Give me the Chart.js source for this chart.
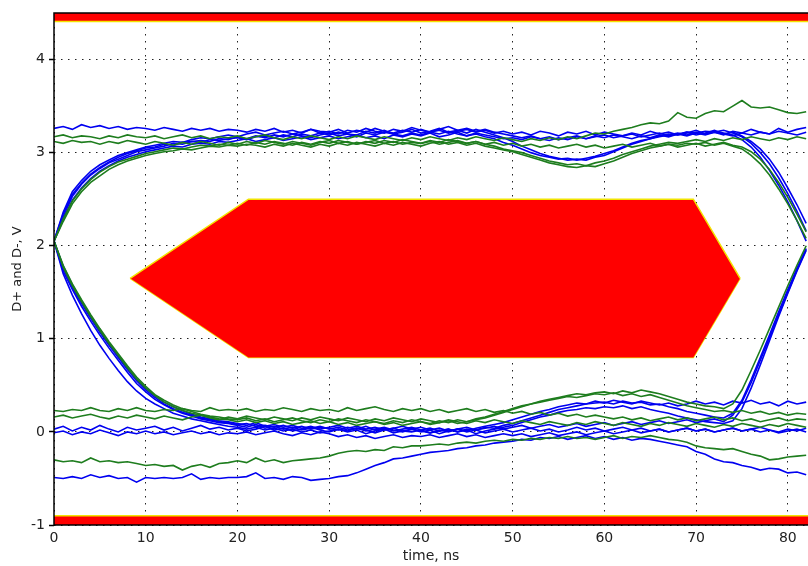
<!DOCTYPE html>
<html>
<head>
<meta charset="utf-8">
<title>Eye diagram</title>
<script src="https://cdn.jsdelivr.net/npm/chart.js@4.4.1/dist/chart.umd.min.js"></script>
<style>
  html, body { margin: 0; padding: 0; background: #fff; overflow: hidden; }
  #wrap { width: 808px; height: 566px; }
</style>
</head>
<body>
<div id="wrap"><canvas id="eye" width="808" height="566"></canvas></div>
<script>
// time axis, ns (one sample per ns)
const timeNs = [
  0, 1, 2, 3, 4, 5, 6, 7, 8, 9,
  10, 11, 12, 13, 14, 15, 16, 17, 18, 19,
  20, 21, 22, 23, 24, 25, 26, 27, 28, 29,
  30, 31, 32, 33, 34, 35, 36, 37, 38, 39,
  40, 41, 42, 43, 44, 45, 46, 47, 48, 49,
  50, 51, 52, 53, 54, 55, 56, 57, 58, 59,
  60, 61, 62, 63, 64, 65, 66, 67, 68, 69,
  70, 71, 72, 73, 74, 75, 76, 77, 78, 79,
  80, 81, 82
];

// ---- blue captures (V) ----
const blueHigh1 = [
  2.05, 2.34, 2.55, 2.67, 2.77, 2.84, 2.90, 2.95, 2.99, 3.02,
  3.05, 3.06, 3.09, 3.08, 3.11, 3.12, 3.11, 3.14, 3.13, 3.15,
  3.16, 3.14, 3.17, 3.18, 3.16, 3.19, 3.17, 3.20, 3.18, 3.21,
  3.19, 3.22, 3.20, 3.19, 3.23, 3.21, 3.24, 3.20, 3.22, 3.25,
  3.21, 3.23, 3.26, 3.22, 3.24, 3.21, 3.25, 3.22, 3.19, 3.16,
  3.12, 3.07, 3.03, 2.99, 2.96, 2.94, 2.92, 2.93, 2.92, 2.95,
  2.97, 3.01, 3.05, 3.09, 3.12, 3.15, 3.18, 3.20, 3.19, 3.22,
  3.21, 3.23, 3.22, 3.24, 3.21, 3.17, 3.10, 3.00, 2.88, 2.73,
  2.56, 2.37, 2.16
];
const blueHigh2 = [
  2.05, 2.28, 2.49, 2.62, 2.72, 2.80, 2.86, 2.91, 2.95, 2.98,
  3.01, 3.03, 3.05, 3.07, 3.06, 3.09, 3.10, 3.09, 3.12, 3.11,
  3.13, 3.15, 3.12, 3.14, 3.16, 3.13, 3.15, 3.17, 3.14, 3.16,
  3.18, 3.15, 3.17, 3.19, 3.16, 3.18, 3.15, 3.19, 3.17, 3.20,
  3.18, 3.21, 3.17, 3.19, 3.22, 3.18, 3.20, 3.17, 3.15, 3.11,
  3.08, 3.04, 3.00, 2.97, 2.95, 2.93, 2.94, 2.92, 2.94, 2.96,
  2.99, 3.02, 3.06, 3.10, 3.13, 3.15, 3.17, 3.19, 3.21, 3.19,
  3.22, 3.20, 3.23, 3.21, 3.19, 3.14, 3.06, 2.95, 2.81, 2.65,
  2.47, 2.27, 2.05
];
const blueHigh3 = [
  2.05, 2.36, 2.58, 2.70, 2.80, 2.87, 2.92, 2.97, 3.00, 3.03,
  3.06, 3.08, 3.10, 3.12, 3.11, 3.14, 3.16, 3.15, 3.17, 3.19,
  3.17, 3.20, 3.22, 3.19, 3.21, 3.23, 3.20, 3.22, 3.25, 3.21,
  3.23, 3.20, 3.24, 3.22, 3.26, 3.23, 3.21, 3.25, 3.23, 3.27,
  3.24, 3.22, 3.25, 3.28, 3.24, 3.26, 3.23, 3.25, 3.22, 3.20,
  3.18, 3.16, 3.18, 3.15, 3.17, 3.14, 3.16, 3.18, 3.15, 3.17,
  3.19, 3.16, 3.18, 3.20, 3.17, 3.19, 3.21, 3.18, 3.20, 3.22,
  3.19, 3.21, 3.24, 3.20, 3.22, 3.18, 3.12, 3.04, 2.93, 2.79,
  2.62, 2.44, 2.24
];
const blueHigh4 = [
  2.05, 2.31, 2.53, 2.66, 2.76, 2.83, 2.89, 2.93, 2.97, 3.01,
  3.03, 3.05, 3.07, 3.10, 3.09, 3.12, 3.13, 3.12, 3.15, 3.14,
  3.17, 3.15, 3.18, 3.16, 3.19, 3.17, 3.20, 3.18, 3.16, 3.19,
  3.21, 3.18, 3.20, 3.17, 3.21, 3.19, 3.22, 3.20, 3.18, 3.21,
  3.19, 3.22, 3.20, 3.23, 3.20, 3.18, 3.21, 3.19, 3.17, 3.15,
  3.16, 3.14, 3.17, 3.15, 3.13, 3.16, 3.14, 3.17, 3.15, 3.18,
  3.16, 3.19, 3.17, 3.15, 3.18, 3.16, 3.19, 3.17, 3.20, 3.18,
  3.21, 3.19, 3.22, 3.20, 3.18, 3.21, 3.19, 3.22, 3.20, 3.23,
  3.21, 3.19, 3.22
];
const blueIdleHigh = [
  3.26, 3.28, 3.25, 3.30, 3.27, 3.29, 3.26, 3.28, 3.25, 3.27,
  3.26, 3.24, 3.27, 3.25, 3.23, 3.26, 3.24, 3.26, 3.23, 3.25,
  3.24, 3.22, 3.25, 3.23, 3.26, 3.22, 3.24, 3.21, 3.25, 3.23,
  3.22, 3.25, 3.21, 3.24, 3.22, 3.26, 3.23, 3.21, 3.24, 3.22,
  3.25, 3.22, 3.24, 3.21, 3.23, 3.25, 3.22, 3.24, 3.21, 3.23,
  3.20, 3.22, 3.19, 3.23, 3.21, 3.18, 3.22, 3.20, 3.23, 3.19,
  3.22, 3.20, 3.18, 3.21, 3.19, 3.23, 3.20, 3.22, 3.19, 3.21,
  3.24, 3.20, 3.22, 3.19, 3.23, 3.21, 3.25, 3.22, 3.20, 3.26,
  3.22, 3.25, 3.27
];
const blueLow1 = [
  2.05, 1.76, 1.55, 1.38, 1.22, 1.07, 0.93, 0.80, 0.67, 0.55,
  0.45, 0.37, 0.30, 0.25, 0.21, 0.18, 0.15, 0.13, 0.11, 0.10,
  0.08, 0.09, 0.06, 0.07, 0.05, 0.07, 0.04, 0.06, 0.03, 0.05,
  0.04, 0.02, 0.05, 0.03, 0.06, 0.02, 0.04, 0.01, 0.03, 0.05,
  0.02, 0.04, 0.01, 0.03, 0.00, 0.03, 0.02, 0.05, 0.04, 0.07,
  0.09, 0.12, 0.15, 0.18, 0.21, 0.24, 0.26, 0.28, 0.30, 0.31,
  0.32, 0.30, 0.33, 0.31, 0.32, 0.29, 0.30, 0.27, 0.25, 0.22,
  0.20, 0.18, 0.16, 0.15, 0.20, 0.34, 0.56, 0.80, 1.04, 1.29,
  1.53, 1.76, 1.97
];
const blueLow2 = [
  2.05, 1.73, 1.53, 1.35, 1.19, 1.04, 0.90, 0.77, 0.64, 0.52,
  0.43, 0.35, 0.29, 0.24, 0.20, 0.17, 0.14, 0.12, 0.10, 0.09,
  0.07, 0.05, 0.08, 0.04, 0.06, 0.03, 0.05, 0.02, 0.04, 0.06,
  0.03, 0.05, 0.02, 0.04, 0.01, 0.03, 0.05, 0.02, 0.00, 0.03,
  0.01, -0.01, 0.02, 0.00, 0.03, 0.01, 0.04, 0.06, 0.08, 0.10,
  0.13, 0.16, 0.19, 0.22, 0.24, 0.27, 0.29, 0.31, 0.30, 0.33,
  0.31, 0.34, 0.32, 0.30, 0.33, 0.31, 0.29, 0.31, 0.28, 0.30,
  0.33, 0.30, 0.32, 0.29, 0.33, 0.31, 0.34, 0.30, 0.32, 0.28,
  0.33, 0.30, 0.32
];
const blueLow3 = [
  2.05, 1.70, 1.47, 1.27, 1.09, 0.93, 0.79, 0.66, 0.54, 0.44,
  0.36, 0.30, 0.25, 0.20, 0.17, 0.14, 0.12, 0.10, 0.08, 0.06,
  0.05, 0.03, 0.05, 0.02, 0.04, 0.01, 0.03, 0.00, 0.02, -0.01,
  0.01, 0.03, 0.00, 0.02, -0.02, 0.01, 0.03, -0.01, 0.01, 0.00,
  0.02, -0.01, 0.01, 0.03, 0.00, 0.02, -0.02, 0.01, 0.03, 0.05,
  0.07, 0.10, 0.13, 0.16, 0.18, 0.21, 0.23, 0.24, 0.26, 0.25,
  0.27, 0.26, 0.28, 0.25, 0.27, 0.24, 0.22, 0.20, 0.17, 0.15,
  0.13, 0.11, 0.10, 0.09, 0.12, 0.25, 0.47, 0.72, 0.98, 1.24,
  1.49, 1.73, 1.95
];
const blueLow4 = [
  2.05, 1.78, 1.58, 1.40, 1.24, 1.09, 0.95, 0.82, 0.69, 0.57,
  0.47, 0.39, 0.32, 0.27, 0.23, 0.19, 0.16, 0.14, 0.12, 0.11,
  0.09, 0.07, 0.10, 0.06, 0.08, 0.05, 0.07, 0.04, 0.06, 0.03,
  0.05, 0.07, 0.04, 0.06, 0.03, 0.05, 0.02, 0.04, 0.06, 0.03,
  0.05, 0.02, 0.04, 0.01, 0.03, 0.05, 0.02, 0.04, 0.06, 0.03,
  0.05, 0.07, 0.04, 0.06, 0.08, 0.05, 0.07, 0.09, 0.06, 0.08,
  0.10, 0.07, 0.09, 0.11, 0.08, 0.10, 0.12, 0.09, 0.11, 0.13,
  0.10, 0.12, 0.14, 0.11, 0.18, 0.32, 0.53, 0.77, 1.01, 1.26,
  1.50, 1.74, 1.96
];
const blueIdleLow1 = [
  0.03, 0.06, 0.01, 0.05, 0.02, 0.07, 0.03, 0.00, 0.05, 0.02,
  0.04, 0.06, 0.02, 0.05, 0.01, 0.04, 0.07, 0.03, 0.05, 0.02,
  0.04, 0.01, 0.03, 0.06, 0.02, 0.04, 0.01, 0.03, 0.05, 0.02,
  0.00, 0.03, 0.01, 0.04, 0.02, -0.01, 0.02, 0.04, 0.01, 0.03,
  0.00, 0.02, -0.02, 0.01, 0.03, 0.00, 0.02, -0.01, 0.01, 0.03,
  0.00, 0.02, 0.04, 0.01, 0.03, 0.00, 0.02, 0.05, 0.02, 0.04,
  0.01, 0.03, 0.05, 0.02, 0.04, 0.01, 0.03, 0.00, 0.02, 0.04,
  0.01, 0.03, 0.00, 0.02, 0.04, 0.01, 0.03, 0.05, 0.02, 0.00,
  0.03, 0.01, 0.04
];
const blueIdleLow2 = [
  -0.01, 0.01, -0.03, 0.00, -0.02, 0.02, -0.01, -0.04, 0.00, -0.02,
  0.01, -0.02, 0.00, -0.03, -0.01, 0.01, -0.02, 0.00, -0.03, -0.01,
  -0.02, 0.00, -0.03, -0.01, 0.01, -0.02, -0.04, -0.01, -0.03, 0.00,
  -0.02, -0.05, -0.03, -0.06, -0.04, -0.07, -0.05, -0.03, -0.06, -0.04,
  -0.05, -0.03, -0.06, -0.04, -0.02, -0.05, -0.03, -0.06, -0.04, -0.02,
  -0.04, -0.02, -0.05, -0.03, -0.01, -0.04, -0.02, 0.00, -0.03, -0.01,
  0.01, -0.02, 0.00, 0.02, -0.01, 0.01, 0.03, 0.00, 0.02, 0.04,
  0.01, 0.03, 0.00, 0.02, 0.04, 0.01, 0.03, 0.00, 0.02, -0.01,
  0.01, 0.03, 0.00
];
const blueNegative = [
  -0.49, -0.50, -0.48, -0.50, -0.46, -0.49, -0.47, -0.50, -0.49, -0.54,
  -0.49, -0.50, -0.49, -0.50, -0.49, -0.45, -0.51, -0.49, -0.50, -0.49,
  -0.49, -0.48, -0.44, -0.50, -0.49, -0.51, -0.48, -0.49, -0.52, -0.51,
  -0.50, -0.48, -0.47, -0.44, -0.40, -0.36, -0.33, -0.29, -0.28, -0.26,
  -0.24, -0.22, -0.21, -0.20, -0.18, -0.17, -0.15, -0.14, -0.12, -0.11,
  -0.10, -0.08, -0.09, -0.06, -0.07, -0.05, -0.08, -0.06, -0.04, -0.07,
  -0.05, -0.08, -0.06, -0.09, -0.07, -0.08, -0.10, -0.12, -0.14, -0.16,
  -0.21, -0.24, -0.29, -0.32, -0.33, -0.36, -0.38, -0.41, -0.39, -0.40,
  -0.44, -0.43, -0.46
];

// ---- green captures (V) ----
const greenHigh1 = [
  2.05, 2.26, 2.45, 2.58, 2.68, 2.75, 2.82, 2.87, 2.91, 2.94,
  2.97, 2.99, 3.01, 3.02, 3.04, 3.03, 3.05, 3.07, 3.06, 3.08,
  3.07, 3.09, 3.08, 3.06, 3.09, 3.07, 3.10, 3.08, 3.06, 3.09,
  3.07, 3.10, 3.08, 3.11, 3.09, 3.07, 3.10, 3.08, 3.11, 3.09,
  3.07, 3.10, 3.12, 3.09, 3.11, 3.08, 3.10, 3.07, 3.05, 3.03,
  3.01, 2.98, 2.95, 2.92, 2.89, 2.87, 2.85, 2.84, 2.86, 2.85,
  2.88, 2.91, 2.95, 2.99, 3.02, 3.05, 3.07, 3.09, 3.08, 3.10,
  3.09, 3.11, 3.08, 3.10, 3.07, 3.04, 2.97, 2.88, 2.76, 2.61,
  2.45, 2.27, 2.08
];
const greenHigh2 = [
  2.05, 2.29, 2.48, 2.61, 2.71, 2.79, 2.85, 2.90, 2.93, 2.96,
  2.99, 3.01, 3.03, 3.05, 3.04, 3.06, 3.08, 3.07, 3.09, 3.08,
  3.10, 3.08, 3.11, 3.09, 3.12, 3.10, 3.08, 3.11, 3.09, 3.12,
  3.10, 3.13, 3.11, 3.09, 3.12, 3.10, 3.13, 3.11, 3.14, 3.12,
  3.10, 3.13, 3.11, 3.14, 3.12, 3.10, 3.12, 3.09, 3.07, 3.04,
  3.02, 3.00, 2.97, 2.94, 2.91, 2.89, 2.87, 2.88, 2.86, 2.89,
  2.91, 2.94, 2.98, 3.01, 3.04, 3.07, 3.09, 3.11, 3.10, 3.12,
  3.14, 3.12, 3.15, 3.13, 3.16, 3.14, 3.17, 3.15, 3.13, 3.16,
  3.14, 3.17, 3.15
];
const greenIdleHigh1 = [
  3.17, 3.19, 3.16, 3.18, 3.17, 3.15, 3.18, 3.16, 3.19, 3.17,
  3.16, 3.18, 3.15, 3.17, 3.19, 3.16, 3.18, 3.15, 3.17, 3.16,
  3.18, 3.15, 3.17, 3.19, 3.16, 3.14, 3.17, 3.15, 3.18, 3.16,
  3.14, 3.17, 3.15, 3.18, 3.16, 3.14, 3.17, 3.15, 3.13, 3.16,
  3.14, 3.17, 3.15, 3.13, 3.16, 3.14, 3.17, 3.15, 3.13, 3.16,
  3.14, 3.12, 3.15, 3.13, 3.16, 3.14, 3.17, 3.15, 3.18, 3.21,
  3.20, 3.23, 3.25, 3.27, 3.30, 3.32, 3.31, 3.34, 3.43, 3.38,
  3.37, 3.42, 3.45, 3.44, 3.50, 3.56, 3.49, 3.48, 3.49, 3.46,
  3.43, 3.42, 3.44
];
const greenIdleHigh2 = [
  3.12, 3.10, 3.13, 3.11, 3.12, 3.09, 3.12, 3.10, 3.13, 3.11,
  3.09, 3.12, 3.10, 3.08, 3.11, 3.09, 3.12, 3.10, 3.08, 3.11,
  3.09, 3.12, 3.10, 3.13, 3.11, 3.09, 3.12, 3.10, 3.08, 3.11,
  3.13, 3.10, 3.12, 3.09, 3.11, 3.13, 3.10, 3.12, 3.09, 3.11,
  3.10, 3.12, 3.09, 3.11, 3.13, 3.10, 3.12, 3.09, 3.11, 3.08,
  3.10, 3.07, 3.09, 3.06, 3.08, 3.05, 3.07, 3.09, 3.06, 3.08,
  3.05, 3.07, 3.09, 3.06, 3.08, 3.10, 3.07, 3.09, 3.06, 3.08,
  3.10, 3.07, 3.09, 3.11, 3.08, 3.06, 3.01, 2.93, 2.82, 2.68,
  2.52, 2.34, 2.15
];
const greenLow1 = [
  2.05, 1.79, 1.59, 1.42, 1.26, 1.11, 0.97, 0.84, 0.71, 0.59,
  0.49, 0.40, 0.34, 0.29, 0.25, 0.22, 0.19, 0.17, 0.16, 0.14,
  0.13, 0.15, 0.12, 0.14, 0.11, 0.13, 0.15, 0.12, 0.10, 0.13,
  0.11, 0.14, 0.12, 0.10, 0.13, 0.11, 0.09, 0.12, 0.10, 0.13,
  0.11, 0.09, 0.12, 0.10, 0.13, 0.11, 0.14, 0.16, 0.19, 0.22,
  0.25, 0.28, 0.30, 0.33, 0.35, 0.37, 0.39, 0.41, 0.40, 0.42,
  0.43, 0.41, 0.44, 0.42, 0.45, 0.43, 0.41, 0.38, 0.35, 0.32,
  0.30, 0.28, 0.27, 0.25, 0.30, 0.45, 0.66, 0.88, 1.11, 1.34,
  1.57, 1.79, 2.00
];
const greenLow2 = [
  2.05, 1.77, 1.57, 1.40, 1.24, 1.09, 0.95, 0.82, 0.69, 0.57,
  0.47, 0.39, 0.32, 0.27, 0.23, 0.20, 0.18, 0.16, 0.14, 0.13,
  0.11, 0.13, 0.10, 0.12, 0.09, 0.11, 0.08, 0.10, 0.12, 0.09,
  0.11, 0.08, 0.10, 0.07, 0.09, 0.11, 0.08, 0.10, 0.07, 0.09,
  0.11, 0.08, 0.10, 0.12, 0.09, 0.11, 0.13, 0.15, 0.18, 0.21,
  0.24, 0.27, 0.30, 0.32, 0.34, 0.36, 0.38, 0.37, 0.39, 0.41,
  0.40, 0.42, 0.39, 0.41, 0.38, 0.40, 0.37, 0.34, 0.31, 0.28,
  0.26, 0.24, 0.22, 0.23, 0.21, 0.23, 0.20, 0.22, 0.19, 0.21,
  0.18, 0.20, 0.19
];
const greenIdleLow1 = [
  0.23, 0.22, 0.24, 0.23, 0.26, 0.23, 0.22, 0.25, 0.23, 0.26,
  0.23, 0.22, 0.24, 0.23, 0.25, 0.23, 0.22, 0.26, 0.23, 0.24,
  0.23, 0.25, 0.22, 0.24, 0.23, 0.26, 0.24, 0.22, 0.25, 0.23,
  0.24, 0.22, 0.26, 0.23, 0.25, 0.27, 0.24, 0.22, 0.25, 0.23,
  0.25, 0.22, 0.24, 0.21, 0.23, 0.25, 0.22, 0.24, 0.21, 0.23,
  0.20, 0.22, 0.19, 0.21, 0.18, 0.20, 0.17, 0.19, 0.16, 0.18,
  0.16, 0.14, 0.16, 0.13, 0.15, 0.12, 0.14, 0.16, 0.13, 0.15,
  0.12, 0.14, 0.16, 0.13, 0.15, 0.12, 0.14, 0.11, 0.13, 0.15,
  0.12, 0.14, 0.13
];
const greenIdleLow2 = [
  0.16, 0.18, 0.15, 0.17, 0.19, 0.16, 0.14, 0.17, 0.15, 0.18,
  0.16, 0.14, 0.17, 0.15, 0.13, 0.16, 0.18, 0.15, 0.13, 0.16,
  0.14, 0.17, 0.15, 0.13, 0.16, 0.14, 0.12, 0.15, 0.13, 0.16,
  0.14, 0.12, 0.15, 0.13, 0.11, 0.14, 0.12, 0.15, 0.13, 0.11,
  0.14, 0.12, 0.10, 0.13, 0.11, 0.09, 0.12, 0.10, 0.13, 0.11,
  0.09, 0.12, 0.10, 0.08, 0.11, 0.09, 0.07, 0.10, 0.08, 0.11,
  0.09, 0.07, 0.10, 0.08, 0.06, 0.09, 0.07, 0.10, 0.08, 0.06,
  0.09, 0.07, 0.05, 0.08, 0.06, 0.09, 0.07, 0.05, 0.08, 0.06,
  0.09, 0.07, 0.05
];
const greenNegative = [
  -0.30, -0.32, -0.31, -0.33, -0.28, -0.32, -0.31, -0.33, -0.32, -0.34,
  -0.36, -0.35, -0.37, -0.36, -0.41, -0.37, -0.35, -0.38, -0.34, -0.33,
  -0.31, -0.33, -0.28, -0.32, -0.30, -0.33, -0.31, -0.30, -0.29, -0.28,
  -0.26, -0.23, -0.21, -0.20, -0.21, -0.19, -0.20, -0.16, -0.17, -0.15,
  -0.15, -0.14, -0.13, -0.14, -0.12, -0.11, -0.12, -0.10, -0.09, -0.10,
  -0.08, -0.09, -0.07, -0.08, -0.06, -0.07, -0.05, -0.07, -0.06, -0.08,
  -0.06, -0.04, -0.07, -0.05, -0.06, -0.04, -0.06, -0.08, -0.09, -0.11,
  -0.15, -0.17, -0.18, -0.19, -0.18, -0.21, -0.24, -0.26, -0.30, -0.29,
  -0.27, -0.26, -0.25
];

// ---- eye mask (ns, V) ----
const maskX = [8.3, 21.2, 69.7, 74.8];
const maskTopV = [1.65, 2.5, 2.5, 1.65];
const maskBottomV = [1.65, 0.8, 0.8, 1.65];
const barX = [0, 82.2];
const upperBarV = [4.41, 4.41];
const lowerBarV = [-0.9, -0.9];

const BLUE = '#0000f0';
const GREEN = '#1e7d1e';
const RED = '#ff0000';
const EDGE = '#f2e400';

function pts(xs, ys) {
    return xs.map((x, i) => ({ x: x, y: ys[i] }));
}

function trace(label, values, color) {
    return {
        label: label,
        data: pts(timeNs, values),
        borderColor: color,
        borderWidth: 1.6,
        pointRadius: 0,
        fill: false,
        tension: 0
    };
}

const greenSet = [
    ['green idle low 2', greenIdleLow2], ['green idle low 1', greenIdleLow1],
    ['green negative', greenNegative], ['green low 1', greenLow1], ['green low 2', greenLow2],
    ['green idle high 2', greenIdleHigh2], ['green idle high 1', greenIdleHigh1],
    ['green high 1', greenHigh1], ['green high 2', greenHigh2]
];
const blueSet = [
    ['blue idle low 2', blueIdleLow2], ['blue idle low 1', blueIdleLow1],
    ['blue negative', blueNegative], ['blue low 1', blueLow1], ['blue low 2', blueLow2],
    ['blue low 3', blueLow3], ['blue low 4', blueLow4],
    ['blue idle high', blueIdleHigh], ['blue high 1', blueHigh1], ['blue high 2', blueHigh2],
    ['blue high 3', blueHigh3], ['blue high 4', blueHigh4]
];

const datasets = [];
greenSet.forEach(([name, v]) => datasets.push(trace(name, v, GREEN)));
blueSet.forEach(([name, v]) => datasets.push(trace(name, v, BLUE)));

// mask: top edge filled down to the bottom edge
datasets.push({
    label: 'mask top', data: pts(maskX, maskTopV),
    borderColor: EDGE, borderWidth: 1.5, backgroundColor: RED,
    pointRadius: 0, fill: '+1', tension: 0
});
datasets.push({
    label: 'mask bottom', data: pts(maskX, maskBottomV),
    borderColor: EDGE, borderWidth: 1.5, backgroundColor: RED,
    pointRadius: 0, fill: false, tension: 0
});
datasets.push({
    label: 'upper limit', data: pts(barX, upperBarV),
    borderColor: EDGE, borderWidth: 1.5, backgroundColor: RED,
    pointRadius: 0, fill: 'end', tension: 0
});
datasets.push({
    label: 'lower limit', data: pts(barX, lowerBarV),
    borderColor: EDGE, borderWidth: 1.5, backgroundColor: RED,
    pointRadius: 0, fill: 'start', tension: 0
});

// black box around the plot (right side is off the page)
const frame = {
    id: 'frame',
    afterDatasetsDraw(chart) {
        const { ctx, chartArea: a } = chart;
        ctx.save();
        ctx.strokeStyle = '#000';
        ctx.lineWidth = 1.5;
        ctx.beginPath();
        ctx.moveTo(a.right + 2, a.top);
        ctx.lineTo(a.left, a.top);
        ctx.lineTo(a.left, a.bottom);
        ctx.lineTo(a.right + 2, a.bottom);
        ctx.stroke();
        ctx.restore();
    }
};

const tickFont = { family: 'DejaVu Sans', size: 14 };

new Chart(document.getElementById('eye'), {
    type: 'line',
    data: { datasets: datasets },
    plugins: [frame],
    options: {
        responsive: false,
        animation: false,
        devicePixelRatio: 1,
        layout: { padding: { top: 13, right: 0, bottom: 0, left: 0 } },
        plugins: {
            legend: { display: false },
            tooltip: { enabled: false }
        },
        scales: {
            x: {
                type: 'linear',
                min: 0,
                max: 82.2,
                afterFit: (scale) => { scale.height = 41; },
                ticks: {
                    stepSize: 10,
                    includeBounds: false,
                    color: '#222',
                    font: tickFont,
                    padding: 5,
                    maxRotation: 0
                },
                grid: { color: '#222', lineWidth: 1, drawTicks: false },
                border: { display: false, dash: [1.5, 5.5] },
                title: {
                    display: true,
                    text: 'time, ns',
                    color: '#222',
                    font: { family: 'DejaVu Sans', size: 14 },
                    padding: { top: 0, bottom: 1 }
                }
            },
            y: {
                min: -1,
                max: 4.5,
                afterFit: (scale) => { scale.width = 54; },
                ticks: {
                    stepSize: 1,
                    includeBounds: false,
                    color: '#222',
                    font: tickFont,
                    padding: 4,
                    callback: (v) => Number.isInteger(v) ? v : ''
                },
                grid: { color: '#222', lineWidth: 1, tickLength: 5, tickColor: '#000', tickWidth: 1.5 },
                border: { display: false, dash: [1.5, 5.5] },
                title: {
                    display: true,
                    text: 'D+ and D-, V',
                    color: '#222',
                    font: { family: 'DejaVu Sans', size: 13 },
                    padding: { top: 10, bottom: 0 }
                }
            }
        }
    }
});
</script>
</body>
</html>
